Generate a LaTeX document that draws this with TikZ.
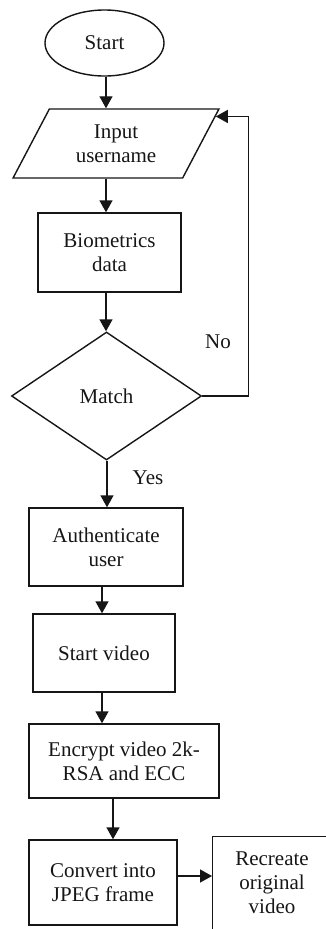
\documentclass[tikz,border=0pt]{standalone}
\usepackage{fontspec}
\setmainfont{Liberation Serif}
\usepackage{xcolor}
\usepackage{tikz}
\usetikzlibrary{calc,arrows.meta,shapes.geometric}
\definecolor{ink}{HTML}{161616}
\newcommand{\flowfont}{\fontsize{21}{24}\selectfont}
\tikzset{
  base/.style={draw=ink, line width=1.4pt, line join=miter},
  box/.style={base, rectangle, inner sep=0pt, align=center, text=ink, font=\flowfont},
  term/.style={box, ellipse},
  io/.style={box, trapezium, trapezium left angle=60, trapezium right angle=120, trapezium stretches=true},
  dec/.style={box, diamond},
  txt/.style={align=center, text=ink, font=\flowfont, inner sep=0pt},
  lab/.style={text=ink, font=\flowfont, inner sep=0pt},
  flow/.style={draw=ink, line width=1.4pt, -{Triangle[length=12pt,width=13pt]}},
}
\begin{document}
\begin{tikzpicture}[x=1pt,y=-1pt]
  \useasboundingbox (0,0) rectangle (326,929);
  \clip (0,0) rectangle (326,929);
  \node[term, minimum width=119pt, minimum height=66pt] (start) at (104.5,43) {Start};
  \node[io, minimum width=206pt, minimum height=69pt] (input) at (116,143.5) {Input\\username};
  \node[box, minimum width=143pt, minimum height=79pt] (bio) at (109.5,252.5) {Biometrics\\data};
  \node[dec, minimum width=190pt, minimum height=128pt] (match) at (106.5,396) {Match};
  \node[box, minimum width=154pt, minimum height=78pt] (auth) at (106,547) {Authenticate\\user};
  \node[box, minimum width=142pt, minimum height=78pt] (video) at (104,653) {Start video};
  \node[box, minimum width=190pt, minimum height=74pt] (encrypt) at (124,761) {Encrypt video 2k-\\RSA and ECC};
  \node[box, minimum width=148pt, minimum height=85pt] (convert) at (103,882.5) {Convert into\\JPEG frame};
  \node[box, minimum width=140pt, minimum height=130pt, anchor=north west] (recbox) at (212,836) {};
  \node[txt] (recreate) at (272,883) {Recreate\\original\\video};
  \foreach \a/\b/\x in {start/input/106,input/bio/106,bio/match/106,match/auth/107,auth/video/102,video/encrypt/102,encrypt/convert/113}
    \draw[flow] (\a.south -| \x,0) -- (\b.north -| \x,0);
  \draw[flow] ([yshift=6.5pt]convert.east) -- ([yshift=6.5pt]convert.east -| recbox.west);
  \coordinate (back) at ($(input.top right corner)!0.116!(input.bottom right corner)$);
  \draw[flow] (match.east) -- ++(46,0) |- (back);
  \node[lab] (no) at (218,342) {No};
  \node[lab] (yes) at (148,478) {Yes};
\end{tikzpicture}
\end{document}
